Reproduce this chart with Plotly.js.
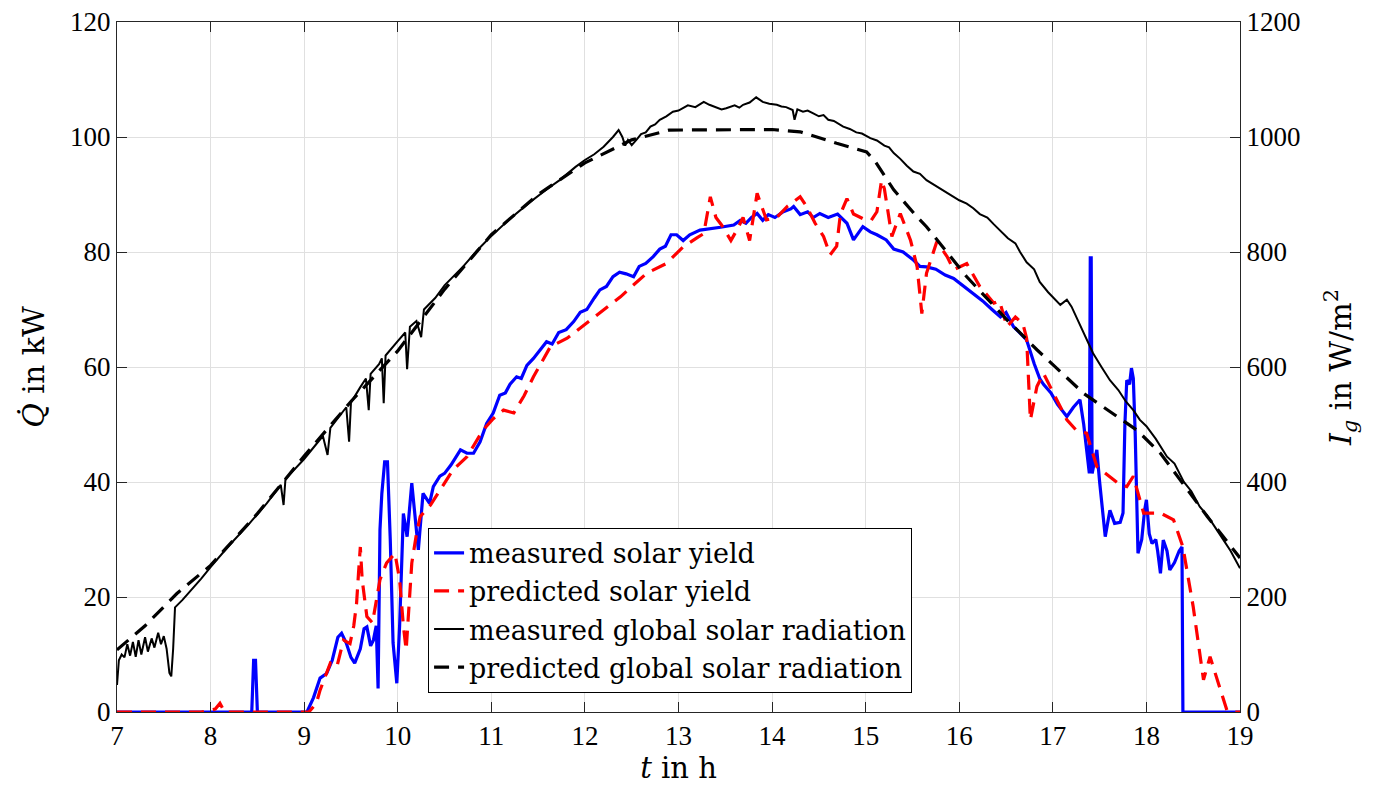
<!DOCTYPE html>
<html>
<head>
<meta charset="utf-8">
<script src="https://cdn.plot.ly/plotly-3.0.1.min.js"></script>
<style>html,body{margin:0;padding:0;background:#fff;}#chart{width:1378px;height:792px;}</style>
</head>
<body>
<div id="chart"></div>
<script>
// ---- measured solar yield (kW) ----
const tYieldMeas = [7.0,8.44,8.46,8.48,8.5,9.03,9.1,9.17,9.24,9.3,9.36,9.4,9.45,9.5,9.54,9.6,9.64,9.67,9.71,9.74,9.77,9.79,9.81,9.83,9.86,9.89,9.92,9.95,9.99,10.02,10.06,10.1,10.15,10.19,10.22,10.27,10.34,10.38,10.45,10.5,10.57,10.67,10.74,10.81,10.88,10.95,11.02,11.09,11.15,11.2,11.27,11.32,11.38,11.45,11.52,11.59,11.65,11.72,11.8,11.88,11.95,12.02,12.1,12.16,12.23,12.3,12.37,12.44,12.52,12.58,12.65,12.73,12.8,12.86,12.92,12.98,13.05,13.12,13.23,13.35,13.45,13.59,13.66,13.72,13.78,13.84,13.9,13.96,14.03,14.12,14.2,14.23,14.3,14.38,14.44,14.51,14.6,14.7,14.8,14.87,14.97,15.05,15.12,15.22,15.3,15.4,15.51,15.58,15.65,15.75,15.85,15.94,16.05,16.15,16.25,16.35,16.44,16.5,16.58,16.65,16.72,16.8,16.86,16.9,16.98,17.05,17.15,17.22,17.29,17.33,17.37,17.39,17.4,17.41,17.42,17.47,17.5,17.56,17.61,17.66,17.72,17.75,17.77,17.79,17.82,17.84,17.86,17.88,17.91,17.95,17.98,18.0,18.03,18.06,18.1,18.12,18.15,18.18,18.22,18.25,18.3,18.35,18.38,18.39,19.0];
const qYieldMeas = [0,0,9,9,0,0,2.5,5.9,6.7,9,13,13.7,12,9.5,8.5,11,14.5,14.8,11.5,12.5,15,4.1,31.7,38,43.5,43.5,30,12,5,15,34.5,30.5,39.8,33,28.2,38,36.3,39.2,41,41.5,43,45.6,45,45,47,50.2,52,55.1,55.5,57,58.3,58,60.3,61.5,63,64.4,64,66,66.5,67.9,69.5,70,72,73.4,74,75.7,76.5,76.2,75.7,77.5,78,79.2,80.5,81,83,83,82,83,83.8,84,84.3,84.7,85.5,85,86,86.7,85.5,86.5,86,87,87.5,87.9,86.5,87,86,86.7,86,86.6,85,82.1,84.4,83.5,83,82.1,80.5,80,78.6,77.5,77.4,77,76,75.4,74,72.8,71.5,70,68.7,69.5,67,65.9,64.7,60.6,58,57,55.5,53.5,51.4,53,54.3,50,44,41.5,79,79,41.5,45.6,40,30.5,35.1,32.8,33,34.6,50,57.7,57,59.8,58,48.5,27.6,30,35,36.9,31,29.3,30,28,24.1,29.9,28,24.7,26,28,28.7,0,0];

// ---- predicted solar yield (kW) ----
const tYieldPred = [7.0,7.9,8.05,8.1,8.15,9.05,9.13,9.17,9.28,9.35,9.42,9.49,9.53,9.56,9.58,9.6,9.62,9.65,9.67,9.73,9.77,9.81,9.88,9.97,10.02,10.06,10.09,10.12,10.15,10.2,10.24,10.35,10.45,10.59,10.74,10.91,11.02,11.13,11.24,11.35,11.45,11.63,11.81,12.06,12.2,12.38,12.5,12.66,12.87,13.05,13.2,13.27,13.34,13.4,13.46,13.56,13.63,13.69,13.76,13.84,13.94,14.05,14.16,14.3,14.37,14.46,14.55,14.62,14.69,14.73,14.8,14.87,14.97,15.06,15.12,15.17,15.2,15.24,15.28,15.37,15.48,15.55,15.6,15.65,15.76,15.87,15.94,16.08,16.22,16.37,16.43,16.51,16.6,16.68,16.72,16.76,16.83,16.9,17.04,17.15,17.25,17.36,17.47,17.61,17.72,17.79,17.86,17.97,18.15,18.29,18.39,18.5,18.61,18.68,18.75,18.86,18.9,19.0];
const qYieldPred = [0,0,0.5,1.5,0,0,1.5,3.8,8.5,7.9,12.5,11.9,15,18.9,24,28.7,23,19,16.6,15.5,19,23,25.9,27.6,23,15,10.8,18,25.9,31,34,36,38.6,42.1,44.4,49,51,52.5,52,55,58.3,63.5,65,68.2,70,72.2,74,76.3,78,80.9,82.5,83.2,89.6,86,84.7,82,84,86,82,90.2,85.6,86,87.9,89.6,87.9,85,82.7,79.5,81,86.6,89.3,86.6,85.8,85.5,87,92.5,91,87,82.7,86.7,82,77.4,69.3,76.3,81.8,79.2,76.9,78,74,71.1,71.5,67,68.7,67.5,65,50.8,56.6,58.9,54.3,50.8,49,48.5,42.7,40.9,39.5,39.2,41,34.6,34.6,33.4,28.7,18.3,5.6,9.6,6,0.3,0,0];

// ---- measured global solar radiation (W/m^2) ----
const tRadMeas = [7.0,7.02,7.05,7.08,7.11,7.14,7.17,7.2,7.23,7.26,7.3,7.33,7.37,7.4,7.44,7.47,7.5,7.53,7.56,7.58,7.6,7.62,7.7,7.8,7.9,8.0,8.2,8.4,8.6,8.75,8.78,8.8,9.0,9.2,9.25,9.28,9.4,9.45,9.48,9.5,9.6,9.66,9.69,9.71,9.8,9.83,9.85,9.87,10.0,10.08,10.1,10.13,10.2,10.25,10.28,10.4,10.5,10.7,10.85,11.0,11.2,11.4,11.6,11.73,11.9,12.0,12.1,12.2,12.3,12.36,12.4,12.43,12.46,12.5,12.55,12.6,12.65,12.7,12.75,12.8,12.87,12.94,13.0,13.1,13.18,13.27,13.33,13.4,13.46,13.51,13.56,13.6,13.65,13.69,13.76,13.83,13.9,13.97,14.05,14.1,14.15,14.22,14.24,14.27,14.33,14.38,14.44,14.5,14.55,14.6,14.66,14.7,14.76,14.83,14.9,14.96,15.05,15.12,15.2,15.25,15.3,15.37,15.44,15.51,15.58,15.65,15.72,15.8,15.87,15.94,16.0,16.08,16.15,16.22,16.3,16.37,16.44,16.52,16.6,16.65,16.72,16.8,16.86,16.95,17.08,17.15,17.2,17.3,17.43,17.52,17.61,17.7,17.78,17.86,17.93,18.0,18.1,18.22,18.3,18.4,18.48,18.57,18.65,18.8,18.9,19.0];
const iRadMeas = [47,90,100,95,118,98,122,96,125,100,130,105,128,112,138,118,132,110,68,62,110,182,195,213,232,252,290,325,363,395,360,405,440,480,447,494,520,530,470,538,565,580,525,588,605,615,537,620,645,660,596,670,680,652,700,720,742,775,803,828,858,885,910,925,948,960,970,983,1000,1012,1000,985,995,986,995,1005,1008,1018,1022,1030,1036,1044,1046,1055,1052,1061,1056,1052,1048,1050,1053,1055,1051,1056,1060,1069,1061,1058,1056,1053,1052,1047,1030,1048,1044,1046,1041,1036,1038,1030,1028,1024,1018,1014,1008,1006,998,994,985,982,972,962,950,940,936,925,918,910,902,896,890,884,876,866,860,848,836,824,815,800,782,770,748,730,708,717,705,670,624,600,577,560,540,525,508,497,475,444,432,400,384,357,342,305,280,250];

// ---- predicted global solar radiation (W/m^2) ----
const tRadPred = [7.0,7.3,7.64,8.0,8.5,9.0,9.5,10.0,10.5,11.0,11.5,12.0,12.5,12.9,14.0,14.3,14.69,15.01,15.1,15.3,15.55,15.65,16.08,16.51,16.83,17.33,17.9,18.15,18.65,19.0];
const iRadPred = [108,150,206,255,345,445,540,628,735,830,900,955,995,1012,1013,1009,989,974,958,908,861,844,757,682,630,554,490,450,340,268];

const seriesNames = ['measured solar yield','predicted solar yield','measured global solar radiation','predicted global solar radiation'];

const FONT = "'Liberation Serif', 'Times New Roman', serif";
const LFONT = "'DejaVu Serif', serif";
const dashPat = '15px,9px';

const traces = [
  {x: tYieldMeas, y: qYieldMeas, name: seriesNames[0], type: 'scatter', mode: 'lines',
   line: {color: '#0000ff', width: 3.2}, yaxis: 'y'},
  {x: tYieldPred, y: qYieldPred, name: seriesNames[1], type: 'scatter', mode: 'lines',
   line: {color: '#ff0000', width: 3.2, dash: dashPat}, yaxis: 'y'},
  {x: tRadMeas, y: iRadMeas, name: seriesNames[2], type: 'scatter', mode: 'lines',
   line: {color: '#000000', width: 2}, yaxis: 'y2'},
  {x: tRadPred, y: iRadPred, name: seriesNames[3], type: 'scatter', mode: 'lines',
   line: {color: '#000000', width: 3.2, dash: dashPat}, yaxis: 'y2'}
];

const axCommon = {
  showline: true, linecolor: '#262626', linewidth: 1,
  ticks: 'inside', ticklen: 10, tickcolor: '#262626', tickwidth: 1,
  tickfont: {family: FONT, size: 27, color: '#000'},
  zeroline: false
};

const layout = {
  width: 1378, height: 792,
  paper_bgcolor: '#fff', plot_bgcolor: '#fff',
  margin: {l: 117, r: 138, t: 22, b: 80},
  font: {family: FONT, color: '#000'},
  showlegend: true,
  legend: {
    x: 0.277, y: 0.267, xanchor: 'left', yanchor: 'top',
    bgcolor: '#fff', bordercolor: '#000', borderwidth: 1,
    font: {family: LFONT, size: 27, color: '#000'},
    tracegroupgap: 0
  },
  xaxis: Object.assign({}, axCommon, {
    range: [7, 19], dtick: 1, tick0: 7, mirror: 'ticks',
    showgrid: true, gridcolor: '#e0e0e0', gridwidth: 1,
    title: {text: '<i>t</i> in h', font: {family: LFONT, size: 29, color: '#000'}, standoff: 5}
  }),
  yaxis: Object.assign({}, axCommon, {
    range: [0, 120], dtick: 20, tick0: 0,
    showgrid: true, gridcolor: '#e0e0e0', gridwidth: 1,
    title: {text: '<i>Q̇</i> in kW', font: {family: LFONT, size: 30, color: '#000'}, standoff: 16}
  }),
  yaxis2: Object.assign({}, axCommon, {
    range: [0, 1200], dtick: 200, tick0: 0,
    overlaying: 'y', side: 'right', showgrid: false,
    title: {text: '<i>I<sub>g</sub></i> in W/m<sup>2</sup>', font: {family: LFONT, size: 30, color: '#000'}, standoff: 30}
  })
};

Plotly.newPlot('chart', traces, layout, {displayModeBar: false, staticPlot: true});
</script>
</body>
</html>
